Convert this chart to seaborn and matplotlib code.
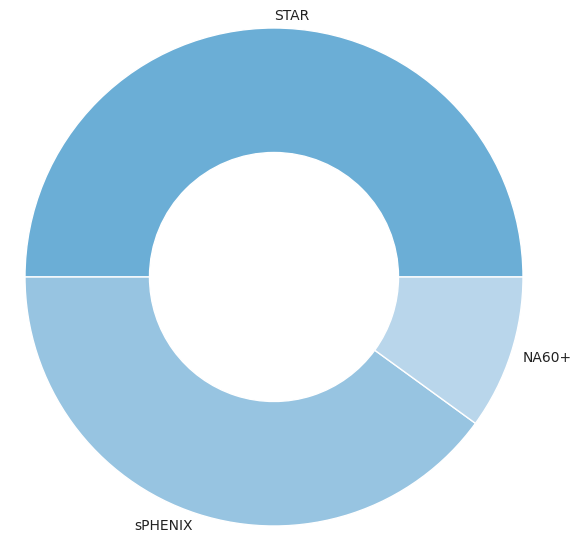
import matplotlib
matplotlib.use('Agg')
import matplotlib.pyplot as plt
import seaborn as sns

sns.set_style('white')
plt.rcParams['font.family'] = ['DejaVu Sans']

# share of each experiment
experiments = ['STAR', 'sPHENIX', 'NA60+']
shares = [50, 40, 10]
colors = ['#6baed6', '#97c4e1', '#b9d6eb']

fig = plt.figure(figsize=(5.8, 5.38), dpi=100)
ax = fig.add_axes([25 / 580, 12 / 538, 498 / 580, 498 / 538])

wedges, texts = ax.pie(shares, labels=experiments, colors=colors, startangle=0,
                       counterclock=True, labeldistance=1.05,
                       wedgeprops={'width': 0.5, 'edgecolor': 'white', 'linewidth': 1},
                       textprops={'fontsize': 10, 'color': '#222222'})
# top label sits just right of centre in the original
texts[0].set_horizontalalignment('left')
ax.set_xlim(-1, 1)
ax.set_ylim(-1, 1)
ax.set_aspect('equal')
ax.axis('off')

fig.savefig('out.png', dpi=100)
